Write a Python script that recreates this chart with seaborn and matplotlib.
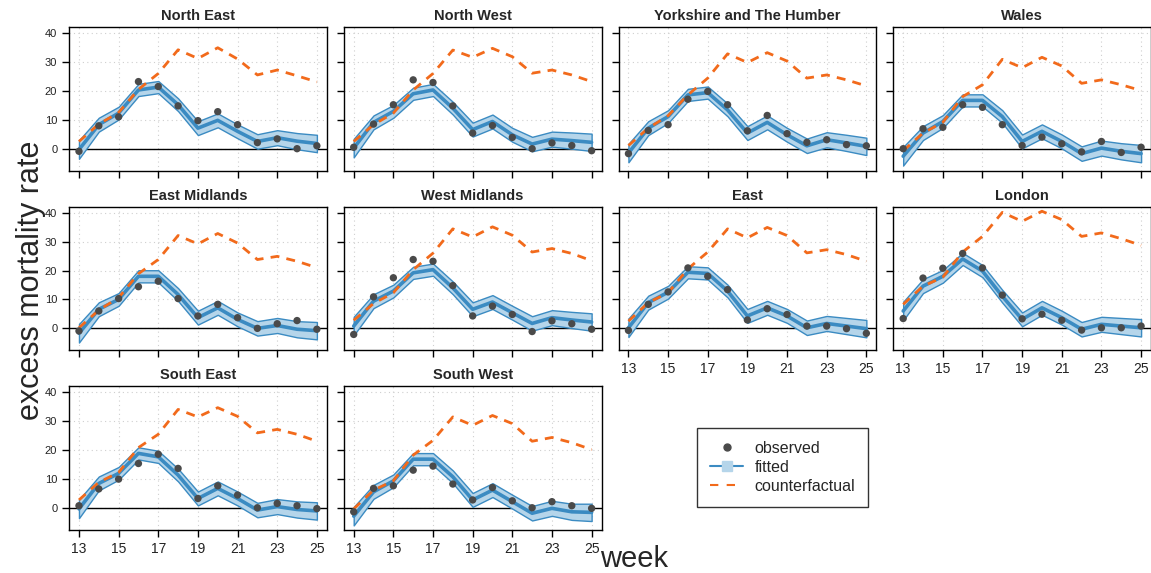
import seaborn as sns
import matplotlib.pyplot as plt
import numpy as np
import pandas as pd
from matplotlib.lines import Line2D

# data
weeks = list(range(13, 26))
regions = ["North East", "North West", "Yorkshire and The Humber", "Wales",
           "East Midlands", "West Midlands", "East", "London",
           "South East", "South West"]

observed = {
    "North East": [-0.9, 7.9, 11.0, 23.2, 21.5, 14.8, 9.7, 12.8, 8.3, 2.1, 3.4, 0.0, 1.0],
    "North West": [0.5, 8.5, 15.2, 23.8, 22.9, 14.8, 5.4, 8.0, 3.9, 0.0, 2.0, 1.1, -0.7],
    "Yorkshire and The Humber": [-1.7, 6.3, 8.3, 17.1, 19.8, 15.2, 6.2, 11.5, 5.2, 2.2, 3.1, 1.4, 1.0],
    "Wales": [0.0, 6.9, 7.4, 15.2, 14.3, 8.3, 1.1, 4.0, 1.7, -1.1, 2.5, -1.3, 0.5],
    "East Midlands": [-0.9, 6.0, 10.3, 14.4, 16.3, 10.3, 4.3, 8.3, 3.7, 0.0, 1.6, 2.7, -0.3],
    "West Midlands": [-2.1, 10.9, 17.5, 23.8, 23.2, 14.8, 4.3, 7.7, 4.8, -1.1, 2.6, 1.6, -0.3],
    "East": [-0.7, 8.3, 12.6, 20.9, 18.0, 13.4, 2.9, 6.8, 4.8, 0.8, 0.8, -0.1, -1.7],
    "London": [3.4, 17.4, 20.8, 25.9, 20.9, 11.5, 3.3, 4.9, 2.8, -0.6, 0.2, 0.2, 0.8],
    "South East": [0.8, 6.6, 10.0, 15.4, 18.6, 13.7, 3.3, 7.7, 4.5, 0.1, 1.6, 0.8, -0.2],
    "South West": [-1.3, 6.8, 7.7, 13.1, 14.5, 8.3, 2.8, 7.1, 2.5, 0.1, 2.2, 0.8, -0.1],
}
fitted = {
    "North East": [-0.3, 8.3, 12.3, 20.3, 21.3, 15.2, 7.1, 9.8, 6.0, 2.5, 3.8, 2.6, 1.8],
    "North West": [0.2, 9.1, 12.9, 19.0, 20.3, 14.0, 6.6, 9.4, 4.8, 1.6, 3.3, 2.8, 2.2],
    "Yorkshire and The Humber": [-1.5, 7.1, 11.1, 18.6, 19.4, 13.4, 5.4, 9.1, 4.8, 1.0, 3.1, 2.0, 0.8],
    "Wales": [-2.6, 5.4, 9.4, 16.7, 16.7, 11.1, 2.5, 6.0, 2.5, -1.7, 0.2, -0.9, -1.7],
    "East Midlands": [-1.7, 6.6, 10.0, 18.0, 18.0, 11.7, 3.7, 7.1, 3.1, 0.0, 1.0, -0.3, -0.8],
    "West Midlands": [0.8, 9.4, 12.9, 19.2, 20.3, 14.0, 6.6, 9.1, 5.4, 1.7, 3.7, 2.9, 2.2],
    "East": [0.2, 8.9, 12.5, 19.4, 19.0, 12.9, 4.3, 7.1, 4.3, 0.2, 1.7, 0.8, -0.1],
    "London": [6.0, 14.6, 18.0, 24.0, 19.8, 11.1, 3.1, 7.1, 3.7, -0.3, 1.4, 0.8, 0.2],
    "South East": [-0.3, 8.5, 12.0, 18.9, 17.7, 11.4, 3.3, 6.8, 3.3, -0.7, 0.5, -0.5, -1.0],
    "South West": [-2.8, 5.6, 9.4, 16.9, 16.9, 10.8, 2.8, 6.2, 2.2, -1.8, -0.1, -1.3, -1.5],
}
half_width = [3.2, 2.4, 2.2, 2.1, 2.1, 2.2, 2.4, 2.4, 2.4, 2.5, 2.6, 2.8, 3.0]
counterfactual = {
    "North East": [2.5, 8.5, 12.5, 20.5, 26.0, 34.2, 31.2, 34.9, 31.0, 25.5, 27.2, 25.2, 23.1],
    "North West": [2.5, 8.3, 12.3, 20.3, 26.0, 34.1, 31.6, 34.7, 31.8, 26.1, 27.2, 25.5, 23.2],
    "Yorkshire and The Humber": [1.1, 7.1, 11.4, 18.6, 24.4, 32.8, 29.8, 33.2, 30.3, 24.4, 25.5, 23.8, 21.7],
    "Wales": [-0.7, 5.4, 9.1, 18.0, 22.1, 30.9, 28.0, 31.6, 28.6, 22.6, 23.8, 22.1, 20.1],
    "East Midlands": [0.2, 6.3, 10.6, 18.9, 23.8, 32.1, 29.2, 32.8, 29.5, 23.8, 24.9, 23.2, 21.0],
    "West Midlands": [2.8, 8.6, 12.3, 20.3, 26.0, 34.4, 31.6, 35.1, 32.2, 26.4, 27.6, 25.9, 23.4],
    "East": [2.5, 8.9, 12.3, 20.6, 26.4, 34.4, 31.3, 34.9, 32.1, 26.1, 27.2, 25.5, 23.2],
    "London": [8.3, 14.6, 17.7, 26.4, 31.8, 40.1, 37.0, 40.5, 37.6, 31.8, 33.0, 31.0, 28.7],
    "South East": [2.8, 8.9, 12.3, 20.9, 25.5, 34.1, 31.5, 34.7, 31.7, 26.0, 27.2, 25.5, 23.1],
    "South West": [-0.3, 6.2, 9.4, 18.3, 23.4, 31.5, 28.6, 32.0, 29.2, 23.1, 24.4, 22.6, 20.2],
}

rows = []
for r in regions:
    for i, w in enumerate(weeks):
        rows.append({"region": r, "week": w,
                     "observed": observed[r][i],
                     "fitted": fitted[r][i],
                     "lower": fitted[r][i] - half_width[i],
                     "upper": fitted[r][i] + half_width[i],
                     "counterfactual": counterfactual[r][i]})
df = pd.DataFrame(rows)

BLUE = "#3b8bc2"
LIGHT = "#b5d5ea"
ORANGE = "#f26a1b"
GREY = "#4a4a4a"

sns.set_style("ticks")
plt.rcParams["font.family"] = ["Liberation Sans", "DejaVu Sans"]


def band(data, **kw):
    ax = plt.gca()
    ax.fill_between(data["week"], data["lower"], data["upper"],
                    facecolor=LIGHT, edgecolor=BLUE, lw=1.0, zorder=2)


def zero_line(data, **kw):
    plt.gca().axhline(0, color="black", lw=1.0, zorder=1)


g = sns.FacetGrid(df, col="region", col_wrap=4, col_order=regions,
                  despine=False, sharex=True, sharey=True)
g.map_dataframe(zero_line)
g.map_dataframe(band)
g.map_dataframe(sns.lineplot, x="week", y="fitted", color=BLUE, lw=2.6, zorder=3)
g.map_dataframe(sns.lineplot, x="week", y="counterfactual", color=ORANGE,
                lw=2.0, dashes=False, linestyle=(0, (3.2, 2.6)), zorder=4)
g.map_dataframe(sns.scatterplot, x="week", y="observed", color=GREY, s=28,
                edgecolor="none", zorder=5)

g.figure.set_size_inches(11.51, 5.73)
g.figure.subplots_adjust(left=0.06, right=1.0, bottom=0.075, top=0.953,
                         wspace=0.066, hspace=0.25)
g.set_titles("{col_name}", fontweight="bold", size=10.5, pad=5)
g.set_axis_labels("", "")
g.set(xlim=(12.5, 25.5), ylim=(-7.6, 42.1),
      xticks=[13, 15, 17, 19, 21, 23, 25], yticks=[0, 10, 20, 30, 40])

for ax in g.axes.flat:
    for s in ax.spines.values():
        s.set_color("black")
        s.set_linewidth(1.0)
    ax.grid(True, linestyle=(0, (1, 3)), color="#cfcfcf", lw=0.8)
    ax.set_axisbelow(True)
    ax.tick_params(axis="both", direction="out", length=5, width=1, color="black")
    ax.tick_params(axis="y", labelsize=8, labelcolor="#222222")
    ax.tick_params(axis="x", labelsize=10, labelcolor="#222222")

g.figure.text(0.027, 0.51, "excess mortality rate", rotation=90,
              ha="center", va="center", fontsize=22)
g.figure.text(0.551, 0.025, "week", ha="center", va="center", fontsize=21)

handles = [
    Line2D([], [], ls="none", marker="o", color=GREY, markersize=5),
    Line2D([], [], color=BLUE, lw=1.5, marker="s", markersize=7,
           markerfacecolor=LIGHT, markeredgecolor=LIGHT),
    Line2D([], [], color=ORANGE, lw=1.5, linestyle=(0, (4, 4))),
]
leg = g.figure.legend(handles, ["observed", "fitted", "counterfactual"],
                      loc="upper left", bbox_to_anchor=(697 / 1151, 1 - 428 / 573),
                      fontsize=11.5, frameon=True, fancybox=False,
                      edgecolor="black", handlelength=2.1, labelspacing=0.25,
                      borderpad=0.8, handletextpad=0.7, borderaxespad=0)
leg.get_frame().set_linewidth(1.0)

plt.savefig("out.png", dpi=100)
